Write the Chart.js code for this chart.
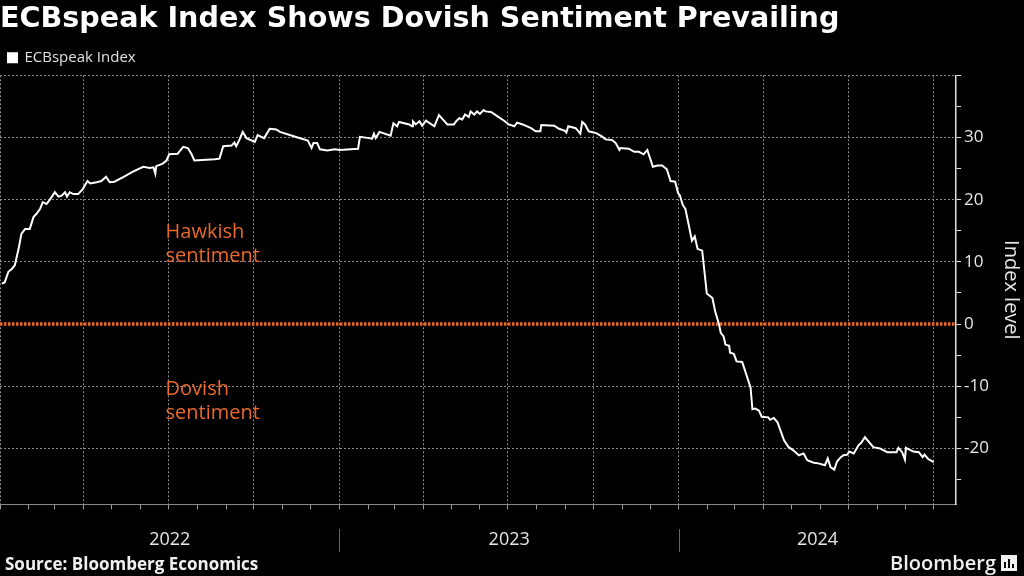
<!DOCTYPE html>
<html>
<head>
<meta charset="utf-8">
<script src="https://cdn.jsdelivr.net/npm/chart.js@4.4.1/dist/chart.umd.min.js"></script>
<style>
    html, body { margin: 0; padding: 0; background: #000; }
    #wrap { width: 1024px; height: 576px; }
</style>
</head>
<body>
<div id="wrap"><canvas id="chart" width="1024" height="576"></canvas></div>
<script>
// ECBspeak index
const dates = [
    '2022-01-03', '2022-01-06', '2022-01-10', '2022-01-14', '2022-01-17', '2022-01-21', '2022-01-24', '2022-01-28',
    '2022-02-02', '2022-02-06', '2022-02-09', '2022-02-13', '2022-02-16', '2022-02-20', '2022-02-24',
    '2022-03-01', '2022-03-05', '2022-03-08', '2022-03-12', '2022-03-14', '2022-03-17', '2022-03-21', '2022-03-26', '2022-03-31',
    '2022-04-05', '2022-04-08', '2022-04-15', '2022-04-20', '2022-04-25', '2022-04-29',
    '2022-05-04', '2022-05-13', '2022-05-24', '2022-06-04', '2022-06-11', '2022-06-15', '2022-06-17', '2022-06-18', '2022-06-25', '2022-06-29',
    '2022-07-02', '2022-07-11', '2022-07-17', '2022-07-22', '2022-07-26', '2022-07-29',
    '2022-08-20', '2022-08-25', '2022-08-29', '2022-09-07', '2022-09-10', '2022-09-12', '2022-09-15', '2022-09-19', '2022-09-23',
    '2022-10-02', '2022-10-05', '2022-10-12', '2022-10-18', '2022-10-25', '2022-10-29',
    '2022-11-17', '2022-11-28', '2022-12-02', '2022-12-04', '2022-12-08', '2022-12-11', '2022-12-19', '2022-12-27',
    '2023-01-01', '2023-01-21', '2023-01-23', '2023-02-02', '2023-02-05', '2023-02-07', '2023-02-09', '2023-02-13', '2023-02-25', '2023-02-28',
    '2023-03-04', '2023-03-06', '2023-03-17', '2023-03-20', '2023-03-21', '2023-03-24', '2023-03-28', '2023-03-31',
    '2023-04-04', '2023-04-13', '2023-04-18', '2023-04-24', '2023-04-27',
    '2023-05-04', '2023-05-07', '2023-05-10', '2023-05-13', '2023-05-16', '2023-05-20', '2023-05-22', '2023-05-26', '2023-05-29',
    '2023-06-01', '2023-06-05', '2023-06-07', '2023-06-13', '2023-06-20', '2023-06-27',
    '2023-07-02', '2023-07-08', '2023-07-11', '2023-07-17', '2023-07-26', '2023-07-31',
    '2023-08-05', '2023-08-06', '2023-08-20', '2023-08-25', '2023-08-31',
    '2023-09-02', '2023-09-04', '2023-09-12', '2023-09-17', '2023-09-19', '2023-09-22', '2023-09-26',
    '2023-10-04', '2023-10-11', '2023-10-14', '2023-10-21', '2023-10-25', '2023-10-29', '2023-10-30',
    '2023-11-08', '2023-11-14', '2023-11-19', '2023-11-24', '2023-11-28',
    '2023-12-04', '2023-12-09', '2023-12-14', '2023-12-19', '2023-12-23', '2023-12-28', '2023-12-31',
    '2024-01-02', '2024-01-05', '2024-01-08', '2024-01-15', '2024-01-18', '2024-01-21', '2024-01-26', '2024-01-31',
    '2024-02-06', '2024-02-09', '2024-02-13', '2024-02-15', '2024-02-18', '2024-02-20', '2024-02-24', '2024-02-25', '2024-02-29',
    '2024-03-03', '2024-03-09', '2024-03-18', '2024-03-20', '2024-03-23', '2024-03-27', '2024-03-30',
    '2024-04-06', '2024-04-08', '2024-04-12', '2024-04-16', '2024-04-23', '2024-04-28',
    '2024-05-03', '2024-05-09', '2024-05-14', '2024-05-18', '2024-05-25', '2024-05-30',
    '2024-06-06', '2024-06-09', '2024-06-12', '2024-06-16', '2024-06-19', '2024-06-23', '2024-06-26', '2024-06-30',
    '2024-07-02', '2024-07-07', '2024-07-12', '2024-07-15', '2024-07-19', '2024-07-23', '2024-07-28',
    '2024-08-04', '2024-08-12', '2024-08-22', '2024-08-24', '2024-08-28', '2024-08-31',
    '2024-09-01', '2024-09-09', '2024-09-15', '2024-09-19', '2024-09-21', '2024-09-25', '2024-10-01'
];
const indexValues = [
    6.5, 6.7, 8.4, 8.9, 9.5, 12.1, 14.5, 15.3,
    15.3, 17.2, 17.7, 18.5, 19.6, 19.3, 20.1,
    21.2, 20.5, 20.6, 21.2, 20.5, 21.2, 20.9, 20.9, 21.7,
    23.0, 22.6, 22.8, 23.0, 23.7, 22.8,
    22.9, 23.6, 24.5, 25.3, 25.1, 25.2, 24.2, 25.4, 25.8, 26.3,
    27.3, 27.4, 28.5, 28.3, 27.3, 26.3,
    26.5, 26.6, 28.6, 28.7, 29.2, 28.6, 29.5, 30.9, 29.9,
    29.3, 30.4, 29.9, 31.4, 31.3, 30.9,
    30.0, 29.5, 28.3, 29.1, 29.1, 28.1, 27.9, 28.1,
    28.0, 28.2, 30.1, 29.9, 29.8, 30.6, 29.9, 30.9, 30.3, 32.3,
    31.8, 32.5, 32.1, 31.8, 32.6, 32.1, 32.6, 31.9,
    32.7, 31.8, 33.6, 32.6, 32.1,
    32.1, 32.7, 33.1, 32.9, 33.7, 33.3, 34.2, 33.7, 34.2,
    33.8, 34.4, 34.2, 34.1, 33.4, 32.7,
    32.1, 31.8, 32.4, 32.1, 31.5, 31.0,
    31.0, 32.0, 31.9, 31.4, 31.1,
    30.8, 31.8, 31.5, 30.6, 32.5, 32.1, 31.0,
    30.7, 30.1, 29.7, 29.6, 29.1, 28.0, 28.3,
    28.2, 27.7, 27.7, 27.3, 28.0,
    25.3, 25.5, 25.5, 24.9, 23.0, 22.9, 21.1,
    20.7, 19.2, 18.5, 13.4, 14.1, 12.1, 11.8, 4.9,
    4.2, 2.0, 0.0, -1.4, -2.0, -3.3, -3.5, -4.6, -4.8,
    -6.0, -6.1, -10.2, -13.7, -13.6, -13.9, -14.9,
    -15.0, -15.4, -15.1, -15.8, -18.7, -19.8,
    -20.3, -21.1, -20.8, -21.9, -22.3, -22.4,
    -22.7, -21.6, -23.0, -23.4, -22.1, -21.4, -21.1, -21.0,
    -20.5, -20.8, -19.5, -19.1, -18.2, -18.9, -19.8,
    -20.0, -20.6, -20.6, -19.9, -20.6, -21.8,
    -19.9, -20.5, -20.6, -21.4, -21.0, -21.7, -22.2
];
const years = ['2022', '2023', '2024'];
const yTickValues = [-25, -20, -15, -10, -5, 0, 5, 10, 15, 20, 25, 30, 35, 40];
const axisStart = '2022-01-01';
const axisEnd = '2024-10-25';
const zoneLabels = [
    { lines: ['Hawkish', 'sentiment'], date: '2022-06-28', value: 13.9 },
    { lines: ['Dovish', 'sentiment'], date: '2022-06-28', value: -11.4 }
];

const DAY = 86400000;
const dayOf = s => Date.parse(s + 'T00:00:00Z') / DAY;
const xMin = dayOf(axisStart);
const xMax = dayOf(axisEnd);

const points = dates.map((d, i) => ({ x: dayOf(d), y: indexValues[i] }));

// month starts for the small tick marks, quarters get a grid line
const monthTicks = [];
for (let y = 2022; y <= 2024; y++) {
    for (let m = 0; m < 12; m++) {
        const v = Date.UTC(y, m, 1) / DAY;
        if (v >= xMin && v <= xMax) monthTicks.push(v);
    }
}
const yearCenters = years.map(y => {
    const a = Math.max(dayOf(y + '-01-01'), xMin);
    const b = Math.min(dayOf((+y + 1) + '-01-01'), xMax);
    return (a + b) / 2;
});

const orange = '#e8692d';
const gridGrey = '#8a8a8a';
Chart.defaults.font.family = '"Open Sans", sans-serif';

const isQuarter = v => new Date(v * DAY).getUTCMonth() % 3 === 0;

const extras = {
    id: 'extras',
    afterDatasetsDraw(chart) {
        const { ctx, scales: { x, y } } = chart;
        ctx.save();
        ctx.fillStyle = orange;
        ctx.font = '20px "Open Sans"';
        ctx.textBaseline = 'alphabetic';
        zoneLabels.forEach(z => {
            const px = x.getPixelForValue(dayOf(z.date));
            const py = y.getPixelForValue(z.value);
            z.lines.forEach((t, i) => ctx.fillText(t, px, py + i * 24));
        });
        ctx.restore();
    },
    afterDraw(chart) {
        const { ctx, scales: { x } } = chart;
        ctx.save();
        // year separators under the axis
        ctx.strokeStyle = '#666';
        ctx.lineWidth = 1;
        years.slice(1).forEach(yr => {
            const px = Math.round(x.getPixelForValue(dayOf(yr + '-01-01'))) + 0.5;
            ctx.beginPath();
            ctx.moveTo(px, 529);
            ctx.lineTo(px, 552);
            ctx.stroke();
        });
        ctx.fillStyle = '#f0f0f0';
        ctx.font = 'bold 17px "Open Sans"';
        ctx.textBaseline = 'alphabetic';
        ctx.fillText('Source: Bloomberg Economics', 5, 570);
        ctx.font = '600 20px "Open Sans"';
        ctx.textAlign = 'right';
        ctx.fillText('Bloomberg', 996, 570);
        // little logo mark
        ctx.fillRect(1001, 555, 16, 16);
        ctx.fillStyle = '#000';
        ctx.fillRect(1004, 562, 2, 6);
        ctx.fillRect(1008, 559, 2, 9);
        ctx.fillRect(1012, 564, 2, 4);
        ctx.restore();
    }
};

new Chart(document.getElementById('chart'), {
    type: 'line',
    data: {
        datasets: [
            {
                label: 'ECBspeak Index',
                data: points,
                borderColor: '#ffffff',
                backgroundColor: '#ffffff',
                borderWidth: 2,
                pointRadius: 0,
                tension: 0
            },
            {
                label: 'zero',
                data: [{ x: xMin, y: 0 }, { x: xMax, y: 0 }],
                borderColor: orange,
                borderWidth: 3.5,
                borderDash: [2.5, 1.5],
                pointRadius: 0
            }
        ]
    },
    options: {
        responsive: false,
        animation: false,
        devicePixelRatio: 1,
        layout: { padding: { left: 0, right: 1, top: 2, bottom: 5 } },
        plugins: {
            title: {
                display: true,
                text: 'ECBspeak Index Shows Dovish Sentiment Prevailing',
                align: 'start',
                color: '#ffffff',
                font: { family: '"DejaVu Sans"', size: 28.6, weight: 'bold' },
                padding: { top: 0, bottom: 6 }
            },
            legend: {
                position: 'top',
                align: 'start',
                labels: {
                    color: '#e0e0e0',
                    font: { size: 15 },
                    boxWidth: 9,
                    boxHeight: 9,
                    padding: 8,
                    filter: item => item.datasetIndex === 0
                }
            },
            tooltip: { enabled: false }
        },
        scales: {
            x: {
                type: 'linear',
                position: 'bottom',
                min: xMin,
                max: xMax,
                afterBuildTicks: s => { s.ticks = monthTicks.map(v => ({ value: v })); },
                ticks: { display: false },
                grid: {
                    color: c => (c.tick && isQuarter(c.tick.value)) ? gridGrey : 'rgba(0,0,0,0)',
                    tickColor: '#9a9a9a',
                    tickLength: 5,
                    lineWidth: 1
                },
                border: { display: true, color: '#8a8a8a', width: 1, dash: [2, 2] }
            },
            x2: {
                type: 'linear',
                position: 'bottom',
                min: xMin,
                max: xMax,
                afterBuildTicks: s => { s.ticks = yearCenters.map(v => ({ value: v })); },
                ticks: {
                    color: '#e6e6e6',
                    font: { size: 18 },
                    padding: 20,
                    autoSkip: false,
                    maxRotation: 0,
                    callback: (v, i) => years[i]
                },
                grid: { display: false, drawTicks: false },
                border: { display: false }
            },
            y: {
                position: 'right',
                min: -29,
                max: 40,
                afterBuildTicks: s => { s.ticks = yTickValues.map(v => ({ value: v })); },
                ticks: {
                    color: '#e6e6e6',
                    font: { size: 17 },
                    padding: 3,
                    callback: v => (v % 10 === 0 && v !== 40) ? String(v) : ''
                },
                grid: {
                    color: c => (c.tick && c.tick.value % 10 === 0 && c.tick.value !== 0) ? gridGrey : 'rgba(0,0,0,0)',
                    tickColor: '#e0e0e0',
                    tickLength: 5,
                    lineWidth: 1
                },
                border: { display: true, color: '#e0e0e0', width: 1.5, dash: [2, 2] },
                title: {
                    display: true,
                    text: 'Index level',
                    color: '#e6e6e6',
                    font: { size: 20 },
                    padding: { top: 0, bottom: 7 }
                }
            }
        }
    },
    plugins: [extras]
});
</script>
</body>
</html>
